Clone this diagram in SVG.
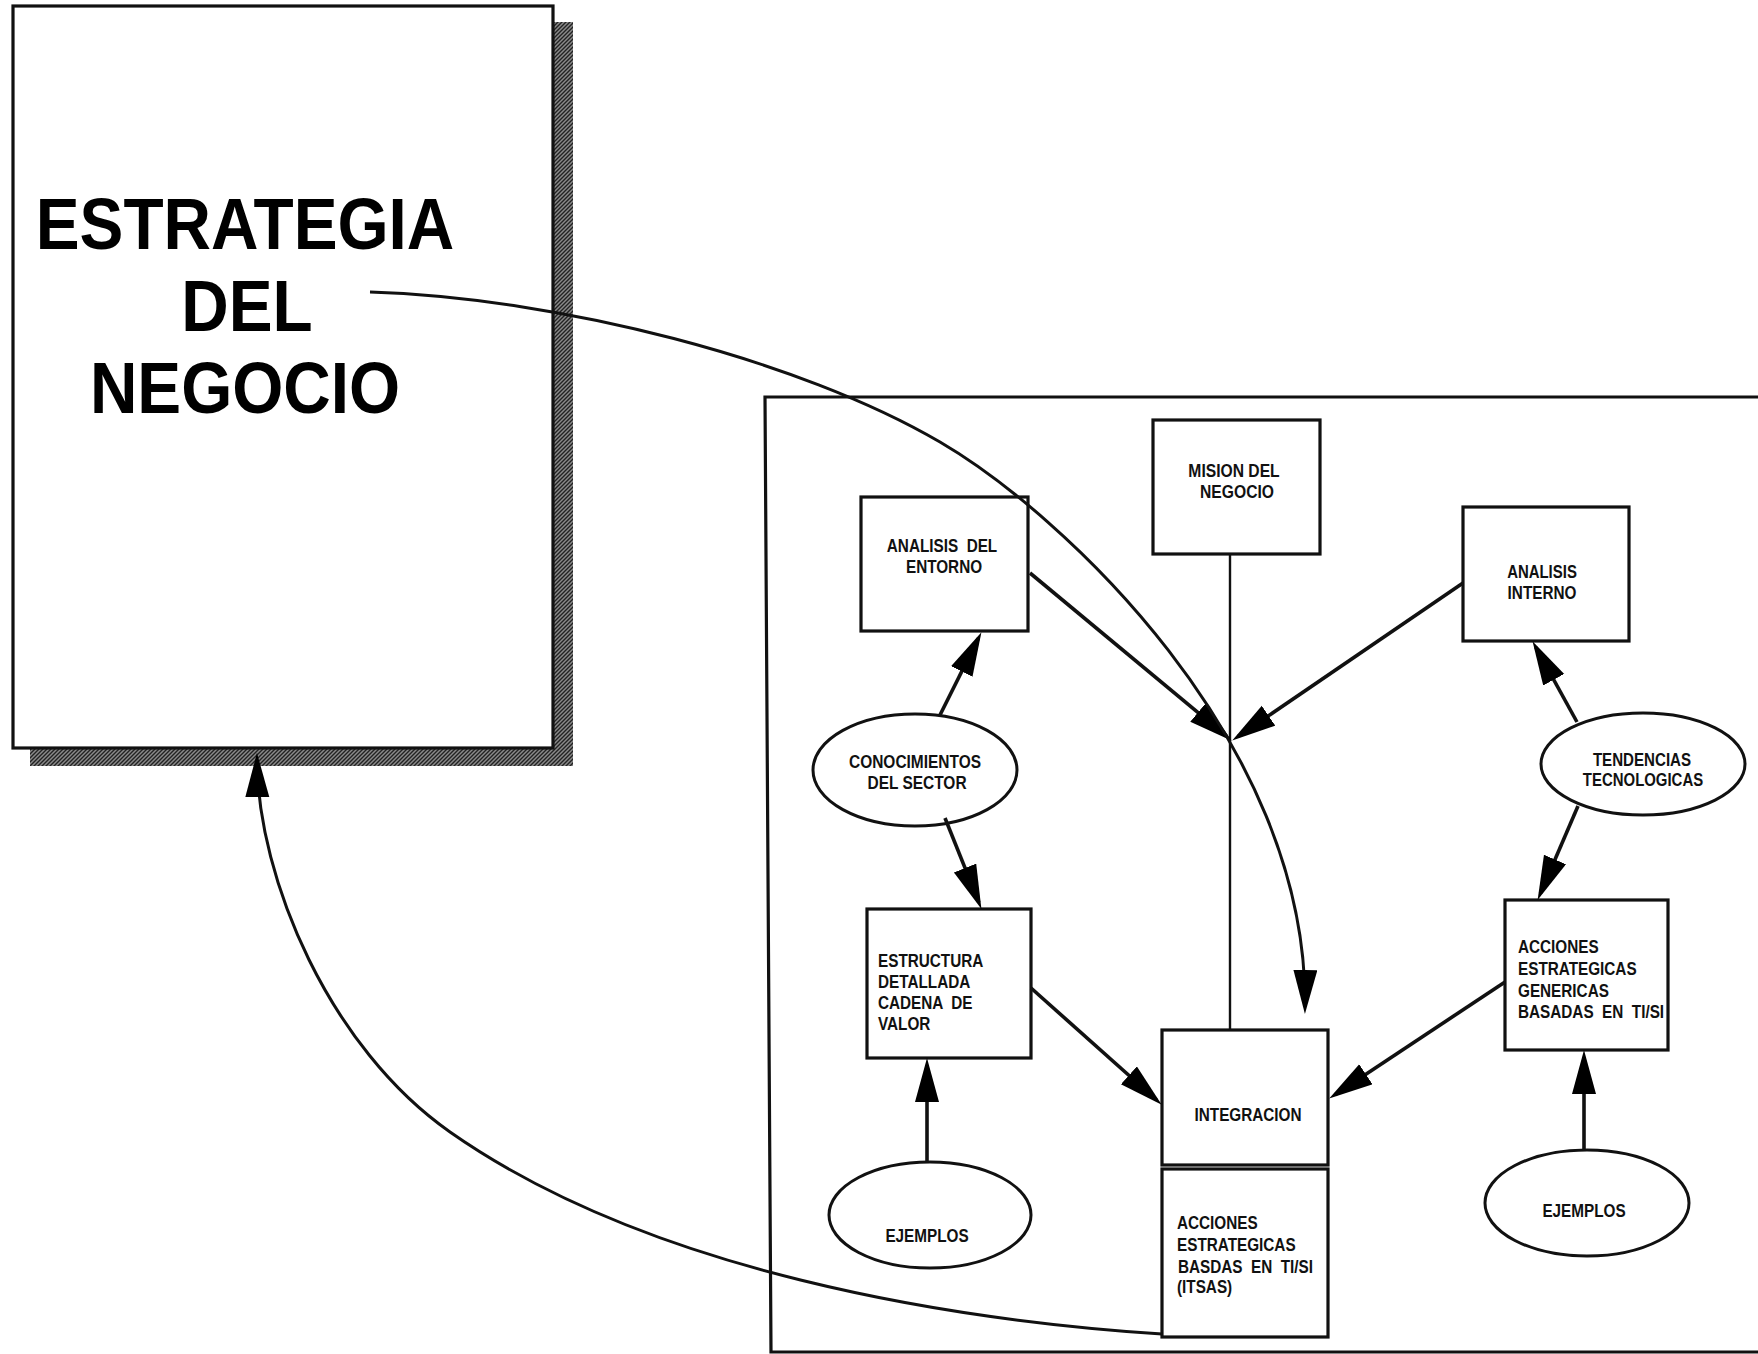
<svg xmlns="http://www.w3.org/2000/svg" width="1758" height="1354" viewBox="0 0 1758 1354">
<defs>
<style>
.box{fill:#fff;stroke:#111;stroke-width:3.2}
.ell{fill:#fff;stroke:#111;stroke-width:3}
.t{font-family:"Liberation Sans",Arial,sans-serif;font-weight:bold;font-size:18px;fill:#111}
.c{text-anchor:middle}
.big{font-family:"Liberation Sans",Arial,sans-serif;font-weight:bold;font-size:73px;fill:#000;text-anchor:middle}
.arr{fill:none;stroke:#111;stroke-width:3.6;marker-end:url(#ah)}
.crv{fill:none;stroke:#111;stroke-width:3;marker-end:url(#ah)}
.ln{fill:none;stroke:#111;stroke-width:2.4}
.frame{fill:none;stroke:#111;stroke-width:3.2}
</style>
<marker id="ah" markerUnits="userSpaceOnUse" markerWidth="48" markerHeight="26" refX="37" refY="12" orient="auto">
<path d="M0,0 L44,12 L0,24 z" fill="#000"/>
</marker>
<pattern id="hatch" width="4" height="4" patternUnits="userSpaceOnUse">
<rect width="4" height="4" fill="#8a8a8a"/>
<path d="M-1,1 L1,-1 M0,4 L4,0 M3,5 L5,3" stroke="#222" stroke-width="1.4"/>
</pattern>
</defs>
<rect width="1758" height="1354" fill="#fff"/>

<g id="n-frame">
<path class="frame" d="M1758,397 L765,397 L771,1352 L1758,1352"/>
</g>

<g id="n-estrategia">
<rect x="553" y="22" width="20" height="744" fill="url(#hatch)"/>
<rect x="30" y="748" width="543" height="18" fill="url(#hatch)"/>
<rect class="box" x="13" y="6" width="540" height="742"/>
<text class="big" transform="translate(245,249) scale(0.9,1)">ESTRATEGIA</text>
<text class="big" transform="translate(247,331) scale(0.9,1)">DEL</text>
<text class="big" transform="translate(245,413) scale(0.9,1)">NEGOCIO</text>
</g>

<g id="n-mision">
<rect class="box" x="1153" y="420" width="167" height="134"/>
<text class="t c" transform="translate(1234,477) scale(0.87,1)">MISION DEL</text>
<text class="t c" transform="translate(1237,498) scale(0.87,1)">NEGOCIO</text>
</g>

<g id="n-entorno">
<rect class="box" x="861" y="497" width="167" height="134"/>
<text class="t c" xml:space="preserve" transform="translate(942,552) scale(0.85,1)">ANALISIS  DEL</text>
<text class="t c" transform="translate(944,573) scale(0.85,1)">ENTORNO</text>
</g>

<g id="n-interno">
<rect class="box" x="1463" y="507" width="166" height="134"/>
<text class="t c" transform="translate(1542,578) scale(0.83,1)">ANALISIS</text>
<text class="t c" transform="translate(1542,599) scale(0.85,1)">INTERNO</text>
</g>

<g id="n-conocimientos">
<ellipse class="ell" cx="915" cy="770" rx="102" ry="56"/>
<text class="t c" transform="translate(915,768) scale(0.86,1)">CONOCIMIENTOS</text>
<text class="t c" transform="translate(917,789) scale(0.86,1)">DEL SECTOR</text>
</g>

<g id="n-tendencias">
<ellipse class="ell" cx="1643" cy="764" rx="102" ry="51"/>
<text class="t c" transform="translate(1642,766) scale(0.84,1)">TENDENCIAS</text>
<text class="t c" transform="translate(1643,786) scale(0.83,1)">TECNOLOGICAS</text>
</g>

<g id="n-estructura">
<rect class="box" x="867" y="909" width="164" height="149"/>
<text class="t" transform="translate(878,967) scale(0.85,1)">ESTRUCTURA</text>
<text class="t" transform="translate(878,988) scale(0.85,1)">DETALLADA</text>
<text class="t" xml:space="preserve" transform="translate(878,1009) scale(0.85,1)">CADENA  DE</text>
<text class="t" transform="translate(878,1030) scale(0.85,1)">VALOR</text>
</g>

<g id="n-genericas">
<rect class="box" x="1505" y="900" width="163" height="150"/>
<text class="t" transform="translate(1518,953) scale(0.85,1)">ACCIONES</text>
<text class="t" transform="translate(1518,975) scale(0.85,1)">ESTRATEGICAS</text>
<text class="t" transform="translate(1518,997) scale(0.85,1)">GENERICAS</text>
<text class="t" xml:space="preserve" transform="translate(1518,1018) scale(0.85,1)">BASADAS  EN  TI/SI</text>
</g>

<g id="n-integracion">
<rect class="box" x="1162" y="1030" width="166" height="135"/>
<text class="t c" transform="translate(1248,1121) scale(0.85,1)">INTEGRACION</text>
</g>

<g id="n-itsas">
<rect class="box" x="1162" y="1169" width="166" height="168"/>
<text class="t" transform="translate(1177,1229) scale(0.85,1)">ACCIONES</text>
<text class="t" transform="translate(1177,1251) scale(0.85,1)">ESTRATEGICAS</text>
<text class="t" xml:space="preserve" transform="translate(1178,1273) scale(0.85,1)">BASDAS  EN  TI/SI</text>
<text class="t" transform="translate(1177,1293) scale(0.85,1)">(ITSAS)</text>
</g>

<g id="n-ejemplos-izq">
<ellipse class="ell" cx="930" cy="1215" rx="101" ry="53"/>
<text class="t c" transform="translate(927,1242) scale(0.85,1)">EJEMPLOS</text>
</g>

<g id="n-ejemplos-der">
<ellipse class="ell" cx="1587" cy="1203" rx="102" ry="53"/>
<text class="t c" transform="translate(1584,1217) scale(0.85,1)">EJEMPLOS</text>
</g>

<g id="connectors">
<line class="ln" x1="1230" y1="554" x2="1230" y2="1030"/>
<line class="arr" x1="1030" y1="573" x2="1226.4" y2="736.2"/>
<line class="arr" x1="1463" y1="583" x2="1238" y2="736.6"/>
<line class="arr" x1="940" y1="715" x2="978.3" y2="638.4"/>
<line class="arr" x1="945" y1="818" x2="978.8" y2="902.4"/>
<line class="arr" x1="927" y1="1162" x2="927" y2="1065"/>
<line class="arr" x1="1031" y1="988" x2="1156.5" y2="1100"/>
<line class="arr" x1="1577" y1="722" x2="1535.9" y2="647.3"/>
<line class="arr" x1="1578" y1="806" x2="1540.4" y2="893.5"/>
<line class="arr" x1="1584" y1="1150" x2="1584" y2="1057"/>
<line class="arr" x1="1505" y1="982" x2="1335" y2="1094.7"/>
<path class="crv" d="M370,292 C560,298 800,360 940,442 C1060,512 1308,740 1305,1007"/>
<path class="crv" d="M1162,1334 C950,1320 650,1272 450,1132 C330,1048 258,880 257,760"/>
</g>
</svg>
